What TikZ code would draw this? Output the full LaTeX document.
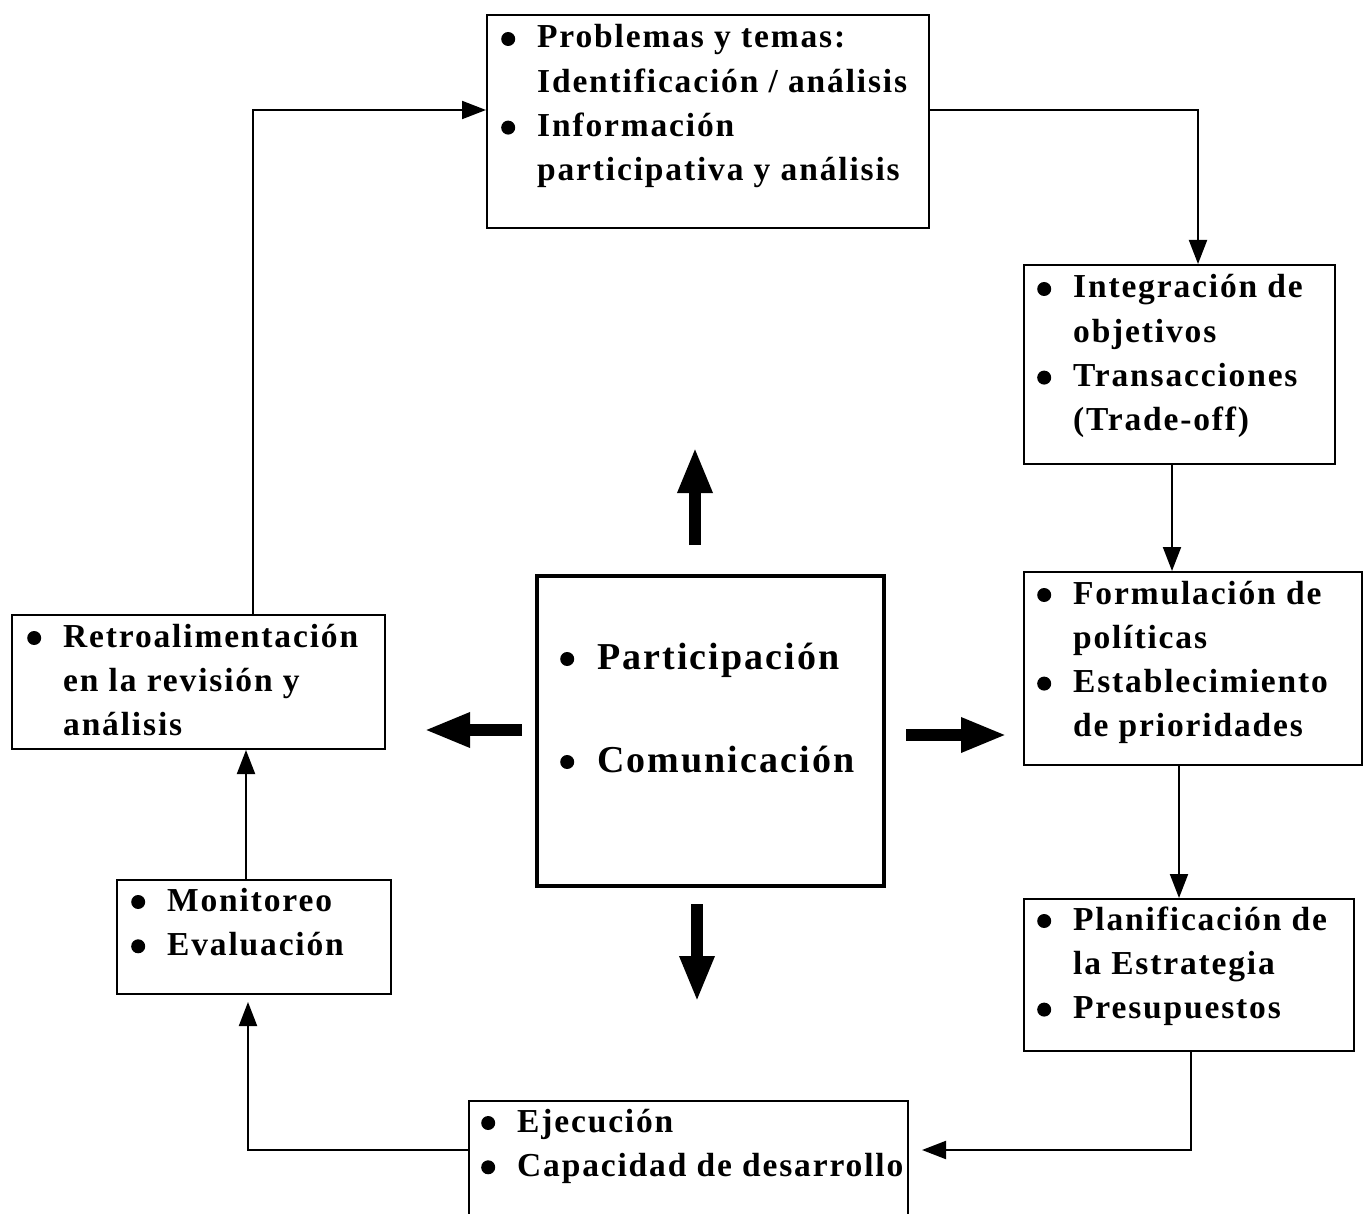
\documentclass[tikz,border=0pt]{standalone}
\usepackage{fontspec}
\setmainfont{Liberation Serif}[LetterSpace=5.5]
\usetikzlibrary{arrows.meta,calc}

% round bullet followed by a fixed indent
\newcommand{\bul}{\makebox[36pt][l]{\tikz[baseline=0pt]{\fill (6.5pt,9pt) circle[radius=7pt];}}}
\newcommand{\bigbul}{\makebox[37pt][l]{\tikz[baseline=0pt]{\fill (6.5pt,10pt) circle[radius=7pt];}}}
\newcommand{\ind}{\hspace*{36pt}}
\newcommand{\blist}[1]{\begin{tabular}[t]{@{}l@{}}#1\end{tabular}}

\tikzset{
  box/.style={draw, line width=2pt, inner sep=0pt, anchor=north west},
  centerbox/.style={draw, line width=4pt, inner sep=0pt, anchor=north west},
  txt/.style={inner sep=0pt, anchor=base west,
    font=\bfseries\fontsize{33.5}{44.3}\selectfont},
  bigtxt/.style={inner sep=0pt, anchor=base west,
    font=\bfseries\fontsize{38}{103}\selectfont},
  conn/.style={line width=2pt, -{Triangle[length=24pt,width=18pt]}},
  fat/.style={line width=12pt, -{Triangle[length=46pt,width=32pt]}},
}

\begin{document}
\begin{tikzpicture}[x=1pt,y=1pt]
\useasboundingbox (0,0) rectangle (1363,-1214);
\clip (0,0) rectangle (1363,-1214);

% boxes
\node[box, minimum width=442pt, minimum height=213pt] (top)   at (486,-14)  {};
\node[box, minimum width=311pt, minimum height=199pt] (integ) at (1023,-264) {};
\node[box, minimum width=338pt, minimum height=193pt] (form)  at (1023,-571) {};
\node[box, minimum width=330pt, minimum height=152pt] (plan)  at (1023,-898) {};
\node[box, minimum width=439pt, minimum height=140pt] (ejec)  at (468,-1100) {};
\node[box, minimum width=274pt, minimum height=114pt] (monit) at (116,-879)  {};
\node[box, minimum width=373pt, minimum height=134pt] (retro) at (11,-614)   {};
\node[centerbox, minimum width=347pt, minimum height=310pt] (core) at (535,-574) {};

% texts
\node[txt] (ttop) at (501,-48) {\blist{\bul Problemas y temas:\\ \ind Identificación / análisis\\ \bul Información\\ \ind participativa y análisis}};
\node[txt] (tinteg) at (1037,-298) {\blist{\bul Integración de\\ \ind objetivos\\ \bul Transacciones\\ \ind (Trade-off)}};
\node[txt] (tform) at (1037,-604) {\blist{\bul Formulación de\\ \ind políticas\\ \bul Establecimiento\\ \ind de prioridades}};
\node[txt] (tplan) at (1037,-930) {\blist{\bul Planificación de\\ \ind la Estrategia\\ \bul Presupuestos}};
\node[txt] (tejec) at (481,-1132) {\blist{\bul Ejecución\\ \bul Capacidad de desarrollo}};
\node[txt] (tmonit) at (131,-911) {\blist{\bul Monitoreo\\ \bul Evaluación}};
\node[txt] (tretro) at (27,-647) {\blist{\bul Retroalimentación\\ \ind en la revisión y\\ \ind análisis}};
\node[bigtxt] (tcore) at (560,-669) {\blist{\bigbul Participación\\ \bigbul Comunicación}};

% cycle connectors
\draw[conn] ($(top.north east)+(0,-96)$) -| ($(integ.north west)+(175,0)$);
\draw[conn] ($(integ.south west)+(149,0)$) -- ($(form.north west)+(149,0)$);
\draw[conn] ($(form.south west)+(156,0)$) -- ($(plan.north west)+(156,0)$);
\draw[conn] ($(plan.south west)+(168,0)$) |- ($(ejec.north east)+(13,-50)$);
\draw[conn] ($(ejec.north west)+(0,-50)$) -| ($(monit.south west)+(132,-7)$);
\draw[conn] ($(monit.north west)+(130,0)$) -- ($(retro.south west)+(235,0)$);
\draw[conn] ($(retro.north west)+(242,0)$) |- ($(top.north west)+(0,-96)$);

% thick arrows around the centre
\coordinate (upA) at ($(core.north west)+(160,29)$);
\coordinate (upB) at ($(core.north west)+(160,127)$);
\coordinate (dnA) at ($(core.south west)+(162,-16)$);
\coordinate (dnB) at ($(core.south west)+(162,-114)$);
\coordinate (rtA) at ($(core.north east)+(20,-161)$);
\coordinate (rtB) at ($(core.north east)+(121,-161)$);
\coordinate (ltA) at ($(core.north west)+(-13,-156)$);
\coordinate (ltB) at ($(core.north west)+(-111,-156)$);
\draw[fat] (upA) -- (upB);
\draw[fat] (dnA) -- (dnB);
\draw[fat] (rtA) -- (rtB);
\draw[fat] (ltA) -- (ltB);
\end{tikzpicture}
\end{document}
